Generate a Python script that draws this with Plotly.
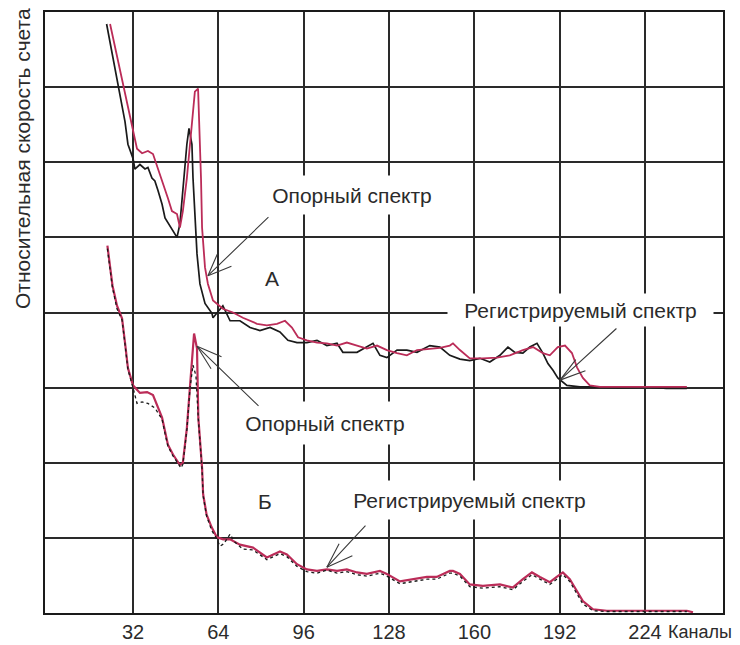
import plotly.graph_objects as go

# ---- Spectrum A (upper, shifted up by 3 units on the chart) ----
a_black_ch = [22.1, 25.2, 27.1, 29.0, 30.1, 32.0, 32.7, 34.6, 36.5, 37.6, 39.1, 40.2, 41.4, 42.9, 44.0,
              45.9, 48.5, 49.6, 50.7, 52.2, 53.0, 54.1, 54.5, 55.2, 56.0, 57.1, 59.0, 61.6, 62.0, 65.7,
              68.4, 72.1, 75.9, 79.6, 83.4, 87.1, 90.1, 93.5, 97.2, 101.0, 104.7, 108.5, 110.7, 116.0,
              119.7, 122.0, 124.6, 127.2, 131.0, 134.7, 138.5, 143.3, 147.1, 150.8, 154.6, 158.3, 162.1,
              165.8, 169.6, 172.6, 175.2, 178.2, 180.8, 183.5, 185.7, 187.6, 189.5, 191.3, 194.7, 199.6,
              204.5, 215.0, 225.0, 232.0, 239.7]
a_black_val = [7.84, 7.25, 6.90, 6.54, 6.24, 6.05, 5.91, 5.97, 5.91, 5.93, 5.79, 5.75, 5.62, 5.44, 5.26,
               5.15, 5.00, 5.18, 5.66, 6.24, 6.45, 6.24, 5.79, 5.26, 4.78, 4.38, 4.12, 3.99, 3.93, 4.09,
               3.89, 3.89, 3.80, 3.76, 3.80, 3.74, 3.63, 3.60, 3.60, 3.63, 3.56, 3.59, 3.47, 3.47,
               3.54, 3.59, 3.43, 3.40, 3.50, 3.50, 3.47, 3.56, 3.54, 3.43, 3.38, 3.36, 3.39,
               3.34, 3.43, 3.54, 3.47, 3.46, 3.54, 3.59, 3.46, 3.32, 3.23, 3.13, 3.03, 3.01,
               3.01, 3.00, 3.01, 2.99, 2.99]

a_red_ch = [23.4, 26.4, 29.0, 31.6, 33.5, 35.4, 37.6, 39.5, 41.4, 43.2, 45.1, 46.6, 48.5, 49.6, 50.7,
            52.2, 54.1, 55.2, 56.4, 56.7, 57.5, 57.9, 59.0, 60.1, 62.0, 65.7, 69.5, 73.2, 78.5, 82.2,
            86.0, 89.0, 91.6, 93.9, 97.2, 101.0, 104.7, 108.5, 112.2, 116.0, 119.7, 123.5, 127.2,
            131.0, 134.7, 138.5, 143.3, 147.1, 150.8, 152.0, 154.6, 158.3, 163.2, 168.5, 173.3,
            178.2, 182.0, 185.7, 188.3, 191.3, 194.0, 196.6, 198.5, 200.7, 203.3, 207.1, 220.0, 239.7]
a_red_val = [7.84, 7.34, 6.90, 6.45, 6.18, 6.12, 6.15, 6.11, 5.91, 5.75, 5.52, 5.35, 5.31, 5.13, 5.35,
             5.79, 6.54, 6.94, 6.98, 6.68, 5.79, 5.13, 4.60, 4.38, 4.16, 4.05, 4.00, 3.93, 3.85, 3.83,
             3.85, 3.89, 3.80, 3.67, 3.63, 3.60, 3.59, 3.56, 3.60, 3.56, 3.52, 3.56, 3.50,
             3.46, 3.43, 3.50, 3.52, 3.53, 3.56, 3.59, 3.50, 3.39, 3.39, 3.40, 3.43,
             3.50, 3.54, 3.46, 3.43, 3.54, 3.56, 3.46, 3.27, 3.13, 3.03, 3.01, 3.01, 3.01]

# ---- Spectrum Б (lower) ----
b_red_ch = [22.4, 24.3, 26.0, 27.9, 29.0, 30.1, 32.0, 34.6, 37.3, 39.5, 42.9, 44.0, 45.1, 47.0, 49.6,
            50.7, 52.2, 53.4, 54.9, 56.0, 56.5, 57.9, 58.3, 59.6, 61.5, 63.4, 65.8, 68.4, 72.1, 77.0,
            82.2, 87.1, 89.7, 93.5, 97.2, 101.0, 104.7, 108.5, 112.2, 116.0, 119.7, 124.6, 127.2,
            132.1, 137.0, 142.2, 145.9, 150.8, 152.0, 154.6, 158.3, 163.2, 169.6, 174.5, 178.2,
            181.6, 184.6, 188.3, 190.9, 193.2, 195.8, 198.5, 200.7, 204.5, 209.7, 225.0, 239.7, 242.0]
b_red_val = [4.89, 4.36, 4.09, 3.92, 3.60, 3.26, 3.03, 2.93, 2.94, 2.90, 2.60, 2.41, 2.24, 2.11, 1.97,
             2.00, 2.46, 3.03, 3.72, 3.52, 2.60, 1.93, 1.58, 1.31, 1.14, 1.01, 0.98, 0.98, 0.91, 0.87,
             0.74, 0.82, 0.78, 0.65, 0.58, 0.56, 0.58, 0.56, 0.58, 0.54, 0.52, 0.56, 0.52,
             0.42, 0.45, 0.48, 0.48, 0.56, 0.56, 0.52, 0.38, 0.36, 0.38, 0.34, 0.45,
             0.54, 0.48, 0.41, 0.48, 0.54, 0.45, 0.29, 0.16, 0.05, 0.03, 0.03, 0.03, 0.01]

b_black_ch = [22.4, 24.3, 26.0, 27.9, 29.0, 30.1, 32.0, 33.5, 35.4, 37.6, 40.2, 42.9, 44.0, 45.1, 47.0,
              50.0, 50.7, 52.2, 53.4, 54.5, 55.6, 56.5, 57.9, 58.3, 59.6, 61.5, 63.4, 64.6, 66.0, 68.4,
              70.0, 73.2, 77.0, 82.2, 87.1, 89.7, 93.5, 97.2, 101.0, 104.7, 108.5, 112.2, 116.0, 119.7,
              124.6, 127.2, 132.1, 137.0, 142.2, 145.9, 150.8, 152.0, 154.6, 158.3, 163.2, 169.6, 174.5,
              178.2, 181.6, 184.6, 188.3, 190.9, 193.2, 195.8, 198.5, 200.7, 204.5, 209.7, 225.0, 239.7]
b_black_val = [4.85, 4.33, 4.05, 3.90, 3.58, 3.24, 3.00, 2.79, 2.81, 2.79, 2.73, 2.58, 2.39, 2.22, 2.09,
               1.93, 1.98, 2.44, 3.00, 3.30, 3.16, 2.58, 1.91, 1.56, 1.29, 1.10, 0.99, 0.89, 0.92, 1.05,
               0.95, 0.85, 0.84, 0.71, 0.79, 0.75, 0.62, 0.55, 0.53, 0.57, 0.53, 0.55, 0.51, 0.49,
               0.53, 0.49, 0.39, 0.42, 0.45, 0.45, 0.53, 0.53, 0.49, 0.35, 0.33, 0.35, 0.31,
               0.42, 0.51, 0.45, 0.38, 0.45, 0.51, 0.42, 0.25, 0.12, 0.03, 0.02, 0.02, 0.02]

tick_vals = [32, 64, 96, 128, 160, 192, 224]
tick_text = ["32", "64", "96", "128", "160", "192", "224"]

BLACK = "#1a1a1a"
RED = "#bb2c58"
TXT = "#2b2b2b"
FONT = "Liberation Sans, Arial, sans-serif"
FS = 21

fig = go.Figure()
fig.add_trace(go.Scatter(x=a_black_ch, y=a_black_val, mode="lines",
                         line=dict(color=BLACK, width=1.7), hoverinfo="skip"))
fig.add_trace(go.Scatter(x=a_red_ch, y=a_red_val, mode="lines",
                         line=dict(color=RED, width=1.8), hoverinfo="skip"))
fig.add_trace(go.Scatter(x=b_red_ch, y=b_red_val, mode="lines",
                         line=dict(color=RED, width=2.2), hoverinfo="skip"))
fig.add_trace(go.Scatter(x=b_black_ch, y=b_black_val, mode="lines",
                         line=dict(color=BLACK, width=1.3, dash="dot"), hoverinfo="skip"))

annotations = []

# text labels with white boxes that interrupt the grid
def label(text, x, y, w=None, h=None):
    d = dict(text=text, x=x, y=y, xref="x", yref="y", showarrow=False,
             font=dict(family=FONT, size=FS, color=TXT), bgcolor="white", borderpad=0)
    if w:
        d["width"] = w
    if h:
        d["height"] = h
    annotations.append(d)

label("Опорный спектр", 114.1, 5.56, 172, 38)
label("Регистрируемый спектр", 199.8, 4.04, 265, 32)
label("Опорный спектр", 104.0, 2.53, 172, 42)
label("Регистрируемый спектр", 158.0, 1.50, 245, 38)
label("А", 84.1, 4.45)
label("Б", 81.5, 1.48)

# arrows: tip in data coords, shaft and two barbs as pixel offsets
def arrow(x, y, shaft, barbs):
    for (ax, ay) in [shaft] + barbs:
        annotations.append(dict(text="", x=x, y=y, xref="x", yref="y", ax=ax, ay=ay,
                                showarrow=True, arrowhead=0, arrowwidth=1.1,
                                arrowcolor="#3a3a3a", standoff=0, startstandoff=0))

arrow(60.1, 4.49, (62, -60), [(10, -23), (25, -10)])
arrow(192.1, 3.10, (58, -53), [(17, -22), (27, -10)])
arrow(56.0, 3.55, (63, 61), [(26, 11), (15, 24)])
arrow(104.7, 0.61, (40, -43), [(13, -25), (27, -12)])

# y-axis title
annotations.append(dict(text="Относительная скорость счета", xref="paper", yref="paper",
                        x=-0.034, y=0.757, xanchor="center", yanchor="middle", textangle=-90,
                        showarrow=False, font=dict(family=FONT, size=FS, color=TXT)))
# x-axis unit label after 224
annotations.append(dict(text="Каналы", xref="paper", yref="paper", x=0.916, y=-0.031,
                        xanchor="left", yanchor="middle", showarrow=False,
                        font=dict(family=FONT, size=18, color=TXT)))

# page body has an 8px margin, so the figure is 8px smaller than the window
fig.update_layout(
    width=732, height=637,
    margin=dict(l=37, r=17, t=2, b=31),
    paper_bgcolor="white", plot_bgcolor="white",
    showlegend=False,
    annotations=annotations,
    xaxis=dict(range=[-1, 253.25], tickvals=tick_vals, ticktext=tick_text,
               showgrid=True, gridcolor="#2a2a2a", gridwidth=1.7, zeroline=False,
               showline=True, linecolor="#1a1a1a", linewidth=2, mirror=True,
               ticks="", tickfont=dict(family=FONT, size=20, color=TXT)),
    yaxis=dict(range=[0, 8], tickvals=list(range(0, 9)), showticklabels=False,
               showgrid=True, gridcolor="#2a2a2a", gridwidth=1.7, zeroline=False,
               showline=True, linecolor="#1a1a1a", linewidth=2, mirror=True, ticks=""),
)

fig.write_html("out.html")
